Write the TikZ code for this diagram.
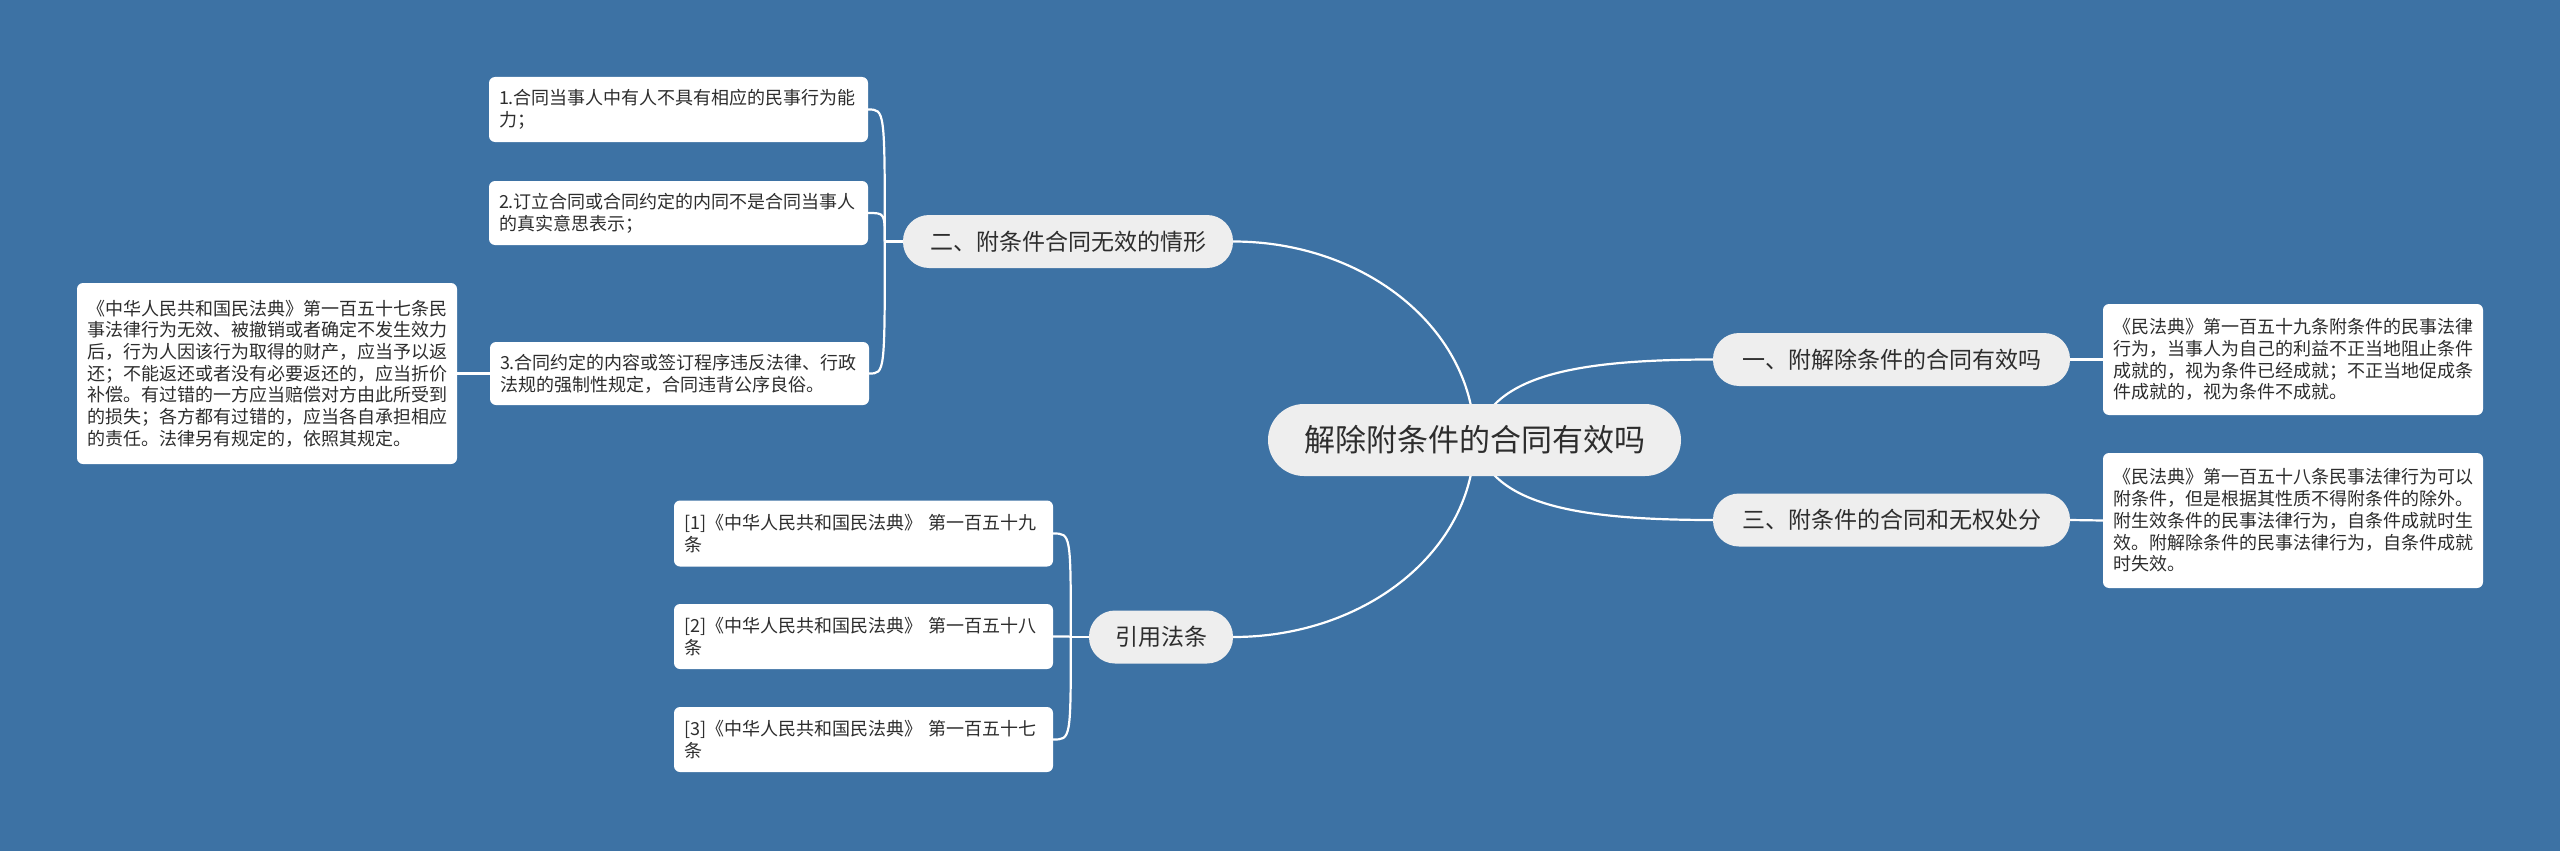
\documentclass[tikz,border=0pt]{standalone}
\usepackage{fontspec}
\setmainfont{Noto Sans CJK SC}
\usetikzlibrary{backgrounds}
\definecolor{bg}{RGB}{61,114,164}
\definecolor{tx}{RGB}{45,45,45}
\definecolor{pill}{RGB}{238,238,238}
\begin{document}
\begin{tikzpicture}[x=1pt,y=-1pt,
  rootnode/.style={fill=pill, rounded corners=36pt, minimum width=413pt, minimum height=72pt, inner sep=0pt, text=tx, font=\fontsize{31}{36}\selectfont},
  branch/.style={fill=pill, rounded corners=26pt, minimum height=53pt, inner sep=0pt, text=tx, font=\fontsize{23}{28}\selectfont},
  leaf/.style={fill=white, rounded corners=6pt, inner xsep=10pt, inner ysep=0pt, text width=359pt, align=left, text=tx, font=\fontsize{18}{21.7}\selectfont},
  wideleaf/.style={leaf, text width=360pt},
  link/.style={draw=white, line width=2.2pt}
]
\useasboundingbox (0,0) rectangle (2560,851);

% root
\node[rootnode] (root) at (1474.5,440) {解除附条件的合同有效吗};

% branches
\node[branch, minimum width=330pt] (b2) at (1068,241.5) {二、附条件合同无效的情形};
\node[branch, minimum width=357pt] (b1) at (1891.5,359.5) {一、附解除条件的合同有效吗};
\node[branch, minimum width=357pt] (b3) at (1891.5,520) {三、附条件的合同和无权处分};
\node[branch, minimum width=144pt] (b4) at (1161,637) {引用法条};

% leaves of branch 二
\node[leaf, minimum height=65pt] (l1) at (678.5,109.5) {1.合同当事人中有人不具有相应的民事行为能\\力；};
\node[leaf, minimum height=64pt] (l2) at (678.5,213) {2.订立合同或合同约定的内同不是合同当事人\\的真实意思表示；};
\node[leaf, minimum height=63pt] (l3) at (679.5,373.5) {3.合同约定的内容或签订程序违反法律、行政\\法规的强制性规定，合同违背公序良俗。};
\node[wideleaf, minimum height=181pt] (big) at (267,373.5) {《中华人民共和国民法典》第一百五十七条民\\事法律行为无效、被撤销或者确定不发生效力\\后，行为人因该行为取得的财产，应当予以返\\还；不能返还或者没有必要返还的，应当折价\\补偿。有过错的一方应当赔偿对方由此所受到\\的损失；各方都有过错的，应当各自承担相应\\的责任。法律另有规定的，依照其规定。};

% right leaves
\node[wideleaf, minimum height=111pt] (r1) at (2293,359.5) {《民法典》第一百五十九条附条件的民事法律\\行为，当事人为自己的利益不正当地阻止条件\\成就的，视为条件已经成就；不正当地促成条\\件成就的，视为条件不成就。};
\node[wideleaf, minimum height=135pt] (r3) at (2293,520.5) {《民法典》第一百五十八条民事法律行为可以\\附条件，但是根据其性质不得附条件的除外。\\附生效条件的民事法律行为，自条件成就时生\\效。附解除条件的民事法律行为，自条件成就\\时失效。};

% references
\node[leaf, minimum height=66pt] (f1) at (863.5,533.5) {[1]《中华人民共和国民法典》 第一百五十九\\条};
\node[leaf, minimum height=65pt] (f2) at (863.5,636.5) {[2]《中华人民共和国民法典》 第一百五十八\\条};
\node[leaf, minimum height=65pt] (f3) at (863.5,739.5) {[3]《中华人民共和国民法典》 第一百五十七\\条};

\coordinate (j2) at ([xshift=-18pt]b2.west);
\coordinate (j4) at ([xshift=-18pt]b4.west);

\begin{scope}[on background layer]
  \fill[bg] (0,0) rectangle (2560,851);
  % root to branches
  \draw[link] (b2.east) .. controls ([xshift=133pt]b2.east) and ([yshift=110pt]root.center) .. (root.center);
  \draw[link] (b4.east) .. controls ([xshift=133pt]b4.east) and ([yshift=-110pt]root.center) .. (root.center);
  \draw[link] (root.center) .. controls ([xshift=16pt,yshift=60pt]root.center) and ([xshift=-153pt]b1.west) .. (b1.west);
  \draw[link] (root.center) .. controls ([xshift=16pt,yshift=-60pt]root.center) and ([xshift=-153pt]b3.west) .. (b3.west);
  % branch 二
  \draw[link] (b2.west) -- (j2);
  \draw[link] (j2) .. controls (j2 |- l1.east) .. (l1.east);
  \draw[link] (j2) .. controls (j2 |- l2.east) .. (l2.east);
  \draw[link] (j2) .. controls (j2 |- l3.east) .. (l3.east);
  \draw[link] (l3.west) -- (big.east);
  % branch 引用法条
  \draw[link] (b4.west) -- (j4);
  \draw[link] (j4) .. controls (j4 |- f1.east) .. (f1.east);
  \draw[link] (j4) .. controls (j4 |- f2.east) .. (f2.east);
  \draw[link] (j4) .. controls (j4 |- f3.east) .. (f3.east);
  % right side
  \draw[link] (b1.east) -- (r1.west);
  \draw[link] (b3.east) -- (r3.west);
\end{scope}
\end{tikzpicture}
\end{document}
